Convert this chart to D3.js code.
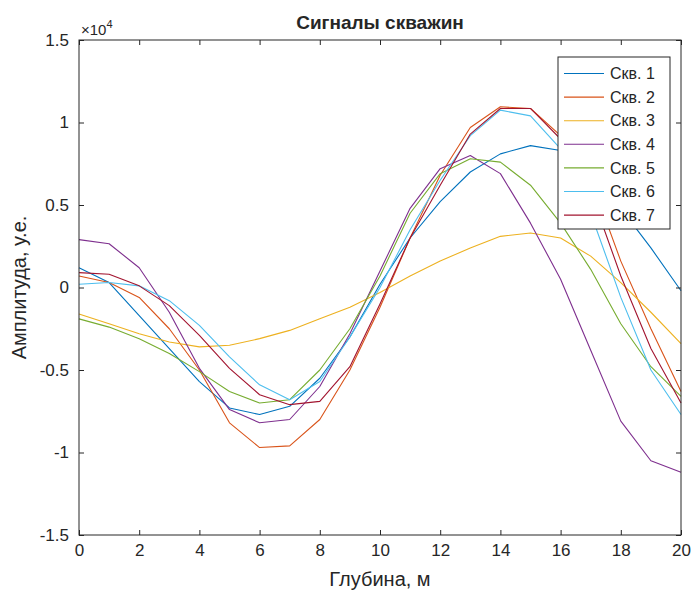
<!DOCTYPE html>
<html>
<head>
<meta charset="utf-8">
<script src="https://cdn.jsdelivr.net/npm/d3@7"></script>
<style>
  html, body { margin: 0; padding: 0; background: #fff; }
  svg { display: block; }
  text { font-family: "Liberation Sans", Arial, Helvetica, sans-serif; fill: #262626; }
</style>
</head>
<body>
<svg id="chart" width="691" height="595"></svg>
<script>
// Depth samples (m)
const depth = d3.range(0, 21);

// Well signal amplitudes (arbitrary units), one array per well
const well1 = [1200, 300, -1700, -3700, -5700, -7300, -7700, -7200, -5500, -3000, 200, 3000, 5200, 7000, 8100, 8600, 8300, 6800, 4800, 2400, -200];
const well2 = [700, 300, -600, -2500, -5000, -8200, -9700, -9600, -8000, -5000, -1200, 3000, 6800, 9700, 10950, 10850, 9200, 6600, 1600, -2500, -6300];
const well3 = [-1600, -2200, -2800, -3300, -3600, -3500, -3100, -2600, -1900, -1200, -300, 700, 1600, 2400, 3100, 3300, 3000, 1900, 300, -1500, -3400];
const well4 = [2900, 2650, 1200, -1500, -4900, -7400, -8200, -8000, -6000, -2800, 1000, 4800, 7200, 8000, 6900, 3900, 500, -3800, -8100, -10500, -11200];
const well5 = [-1900, -2400, -3100, -4000, -5100, -6300, -7000, -6800, -5000, -2500, 700, 4500, 6900, 7800, 7600, 6200, 3900, 1100, -2200, -4800, -6600];
const well6 = [200, 300, 100, -800, -2300, -4200, -5900, -6800, -5700, -3000, 0, 3500, 6500, 9200, 10750, 10400, 8400, 4500, -600, -5000, -7700];
const well7 = [900, 800, 100, -1100, -2900, -4900, -6500, -7100, -6900, -4800, -1000, 3000, 6200, 9300, 10850, 10850, 9000, 5800, 700, -3700, -7000];

const seriesNames = ["Скв. 1", "Скв. 2", "Скв. 3", "Скв. 4", "Скв. 5", "Скв. 6", "Скв. 7"];
const seriesValues = [well1, well2, well3, well4, well5, well6, well7];
const seriesColors = ["#0072BD", "#D95319", "#EDB120", "#7E2F8E", "#77AC30", "#4DBEEE", "#A2142F"];

const xTicks = [0, 2, 4, 6, 8, 10, 12, 14, 16, 18, 20];
const yTicks = [-15000, -10000, -5000, 0, 5000, 10000, 15000];

const titleText = "Сигналы скважин";
const xLabel = "Глубина, м";
const yLabel = "Амплитуда, у.е.";

const svg = d3.select("#chart");
const W = 691, H = 595;
const m = { left: 79, right: 10, top: 40, bottom: 60 };
const x0 = m.left, x1 = W - m.right, y0 = m.top, y1 = H - m.bottom;

const x = d3.scaleLinear().domain([0, 20]).range([x0, x1]);
const y = d3.scaleLinear().domain([-15000, 15000]).range([y1, y0]);

const axisColor = "#262626";
const tickLen = 5;
const tickFont = 17;
const fmtY = v => d3.format("")(v / 10000).replace("−", "-");

// Data lines
const line = d3.line().x((d, i) => x(depth[i])).y(d => y(d));
const plot = svg.append("g");
seriesValues.forEach((vals, k) => {
  plot.append("path")
    .datum(vals)
    .attr("d", line)
    .attr("fill", "none")
    .attr("stroke", seriesColors[k])
    .attr("stroke-width", 1.1)
    .attr("stroke-linejoin", "round");
});

// Axes: bottom/left with labels, top/right mirrored ticks only
const gx = svg.append("g").attr("transform", `translate(0,${y1})`)
  .call(d3.axisBottom(x).tickValues(xTicks).tickSizeInner(-tickLen).tickSizeOuter(0).tickPadding(9).tickFormat(d3.format("d")));
const gxt = svg.append("g").attr("transform", `translate(0,${y0})`)
  .call(d3.axisTop(x).tickValues(xTicks).tickSizeInner(-tickLen).tickSizeOuter(0).tickFormat(""));
const gy = svg.append("g").attr("transform", `translate(${x0},0)`)
  .call(d3.axisLeft(y).tickValues(yTicks).tickSizeInner(-tickLen).tickSizeOuter(0).tickPadding(10).tickFormat(fmtY));
const gyr = svg.append("g").attr("transform", `translate(${x1},0)`)
  .call(d3.axisRight(y).tickValues(yTicks).tickSizeInner(-tickLen).tickSizeOuter(0).tickFormat(""));

[gx, gxt, gy, gyr].forEach(g => {
  g.select(".domain").remove();
  g.selectAll(".tick line").attr("stroke", axisColor).attr("stroke-width", 1);
  g.selectAll(".tick text")
    .attr("font-size", tickFont)
    .attr("font-family", "Liberation Sans, Arial, sans-serif")
    .attr("fill", axisColor);
});
gx.selectAll(".tick text").attr("dy", "0.72em");

// Box
svg.append("rect")
  .attr("x", x0).attr("y", y0)
  .attr("width", x1 - x0).attr("height", y1 - y0)
  .attr("fill", "none").attr("stroke", axisColor).attr("stroke-width", 1);

// Exponent marker
const expo = svg.append("text")
  .attr("x", x0 + 2).attr("y", y0 - 5)
  .attr("font-size", 15);
expo.append("tspan").text("×10");
expo.append("tspan").attr("font-size", 11).attr("dy", -7).text("4");

// Title
svg.append("text")
  .attr("x", (x0 + x1) / 2).attr("y", 29)
  .attr("text-anchor", "middle")
  .attr("font-size", 19).attr("font-weight", "bold")
  .text(titleText);

// Axis labels
svg.append("text")
  .attr("x", (x0 + x1) / 2).attr("y", 586)
  .attr("text-anchor", "middle")
  .attr("font-size", 20)
  .text(xLabel);

svg.append("text")
  .attr("transform", `translate(26,${(y0 + y1) / 2}) rotate(-90)`)
  .attr("text-anchor", "middle")
  .attr("font-size", 20)
  .text(yLabel);

// Legend
const lg = { x: 558, y: 57, w: 112, h: 172, row: 23.6, first: 73.5 };
const legend = svg.append("g");
legend.append("rect")
  .attr("x", lg.x).attr("y", lg.y).attr("width", lg.w).attr("height", lg.h)
  .attr("fill", "#fff").attr("stroke", axisColor).attr("stroke-width", 1);
seriesNames.forEach((name, k) => {
  const cy = lg.first + k * lg.row;
  legend.append("line")
    .attr("x1", lg.x + 6).attr("x2", lg.x + 46)
    .attr("y1", cy).attr("y2", cy)
    .attr("stroke", seriesColors[k]).attr("stroke-width", 1.1);
  legend.append("text")
    .attr("x", lg.x + 52).attr("y", cy)
    .attr("dy", "0.36em")
    .attr("font-size", 16)
    .text(name);
});
</script>
</body>
</html>
